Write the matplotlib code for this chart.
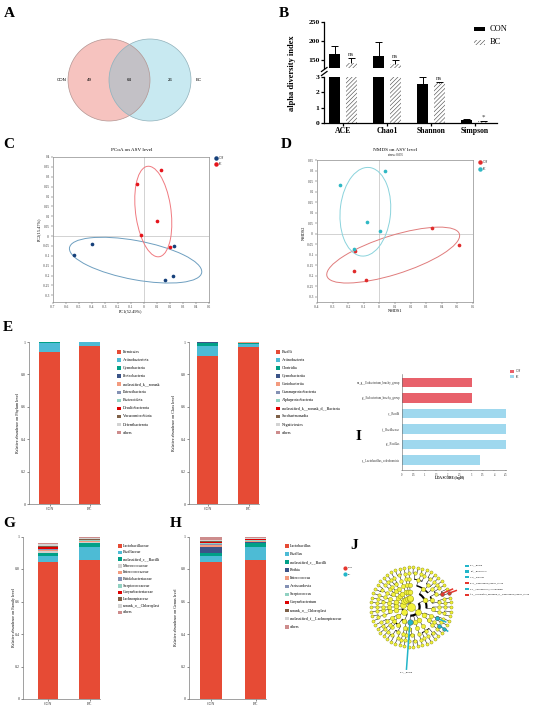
import numpy as np
import matplotlib
matplotlib.use("Agg")
import matplotlib.pyplot as plt
from matplotlib.patches import Circle, Ellipse, Rectangle
from matplotlib.lines import Line2D
from matplotlib.transforms import Bbox, TransformedBbox

plt.rcParams['font.family'] = ['Liberation Serif', 'DejaVu Serif']
plt.rcParams['hatch.linewidth'] = 0.45

# ---------------- data ----------------
venn_groups = ["CON", "BC"]
venn_counts = [49, 64, 26]          # CON only, shared, BC only

alpha_metrics = ["ACE", "Chao1", "Shannon", "Simpson"]
alpha_con = [165, 161, 2.53, 0.22]
alpha_con_sd = [21, 36, 0.44, 0.02]
alpha_bc = [142, 139, 2.58, 0.11]
alpha_bc_sd = [12, 11, 0.10, 0.04]
alpha_sig = ["ns", "ns", "ns", "*"]

pcoa_con_x = [-0.40, -0.54, 0.228, 0.225, 0.164]
pcoa_con_y = [-0.040, -0.097, -0.050, -0.200, -0.224]
pcoa_bc_x = [0.128, -0.051, 0.100, -0.020, 0.200]
pcoa_bc_y = [0.336, 0.262, 0.076, 0.003, -0.057]

nmds_con_x = [0.336, 0.510, -0.155, -0.166, -0.083]
nmds_con_y = [0.025, -0.057, -0.083, -0.177, -0.221]
nmds_bc_x = [-0.255, 0.036, -0.077, 0.006, -0.160]
nmds_bc_y = [0.229, 0.298, 0.053, 0.014, -0.076]

phylum_names = ["Firmicutes", "Actinobacteriota", "Cyanobacteria", "Proteobacteria",
                "unclassified_k__norank", "Patescibacteria", "Bacteroidota",
                "Desulfobacterota", "Verrucomicrobiota", "Deferribacterota", "others"]
phylum_con = [0.936, 0.059, 0.002, 0.001, 0.001, 0.0005, 0.0005, 0, 0, 0, 0]
phylum_bc = [0.977, 0.020, 0.001, 0.001, 0.0005, 0, 0.0005, 0, 0, 0, 0]

class_names = ["Bacilli", "Actinobacteria", "Clostridia", "Cyanobacteriia", "Coriobacteriia",
               "Gammaproteobacteria", "Alphaproteobacteria", "unclassified_k__norank_d__Bacteria",
               "Saccharimonadia", "Negativicutes", "others"]
class_con = [0.912, 0.062, 0.022, 0.002, 0.001, 0.0005, 0.0005, 0, 0, 0, 0]
class_bc = [0.970, 0.018, 0.006, 0.001, 0.003, 0.001, 0.001, 0, 0, 0, 0]

family_names = ["Lactobacillaceae", "Bacillaceae", "unclassified_c__Bacilli", "Micrococcaceae",
                "Enterococcaceae", "Bifidobacteriaceae", "Streptococcaceae", "Corynebacteriaceae",
                "Lachnospiraceae", "norank_o__Chloroplast", "others"]
family_con = [0.845, 0.035, 0.017, 0.014, 0.005, 0.005, 0.005, 0.008, 0.010, 0.008, 0.010]
family_bc = [0.853, 0.085, 0.025, 0.003, 0.004, 0.003, 0.003, 0.003, 0.005, 0.005, 0.010]

genus_names = ["Lactobacillus", "Bacillus", "unclassified_c__Bacilli", "Rothia", "Enterococcus",
               "Aeriscardovia", "Streptococcus", "Corynebacterium", "norank_o__Chloroplast",
               "unclassified_f__Lachnospiraceae", "others"]
genus_con = [0.845, 0.035, 0.017, 0.040, 0.010, 0.008, 0.006, 0.008, 0.006, 0.005, 0.020]
genus_bc = [0.853, 0.085, 0.025, 0.003, 0.004, 0.003, 0.003, 0.006, 0.004, 0.003, 0.010]

lefse_features = ["s__unclassified_bacterium_g__Eubacterium_brachy_group",
                  "g__Eubacterium_brachy_group", "c__Bacilli", "f__Bacillaceae",
                  "g__Bacillus", "s__Lactobacillus_coleohominis"]
lefse_lda = [3.02, 3.02, 4.49, 4.49, 4.49, 3.38]
lefse_group = ["CON", "CON", "BC", "BC", "BC", "BC"]

# cladogram: number of children of every node, level by level
clado_children = [
    [8],
    [5, 3, 2, 2, 1, 1, 1, 1],
    [3, 2, 1, 1, 1, 2, 2, 1, 2, 1, 1, 1, 1, 1, 1, 1],
    [3, 2, 2, 1, 2, 1, 1, 2, 1, 2, 1, 1, 2, 1, 1, 1, 2, 1, 1, 1, 1, 1],
    [3, 2, 1, 2, 2, 1, 1, 2, 1, 1, 3, 1, 2, 1, 1, 2, 1, 1, 2, 1, 1, 1, 2, 1, 1, 1, 1, 2, 1, 1, 1],
    [2, 1, 1, 2, 1, 1, 1, 2, 1, 1, 1, 2, 1, 1, 1, 1, 2, 1, 1, 1, 2, 1, 1, 1, 1, 2, 1, 1, 1, 1,
     2, 1, 1, 1, 1, 1, 2, 1, 1, 1, 1, 2, 1, 1],
]
clado_marks = [(2, -95, "BC", 1.45), (4, -28, "BC", 0.88), (5, -31, "BC", 0.97),
               (6, -36, "BC", 1.02), (5, 25, "CON", 1.05), (6, 22, "CON", 1.12)]
clado_labels = ["a: c__Bacilli", "b: f__Bacillaceae", "c: g__Bacillus",
                "d: g__Eubacterium_brachy_group", "e: s__Lactobacillus_coleohominis",
                "f: s__unclassified_bacterium_g__Eubacterium_brachy_group"]
clado_label_group = ["BC", "BC", "BC", "CON", "BC", "CON"]

npg = ["#E64B35", "#4DBBD5", "#00A087", "#3C5488", "#F39B7F", "#8491B4",
       "#91D1C2", "#DC0000", "#7E6148", "#D3D3D3", "#CD8C8C"]
family_colors = list(npg)
family_colors[3] = "#D0D0D0"

# ---------------- figure helpers ----------------
W, H = 550, 708
fig = plt.figure(figsize=(W / 100, H / 100), dpi=100)


def box(x0, y0, x1, y1):
    return [x0 / W, 1 - y1 / H, (x1 - x0) / W, (y1 - y0) / H]


def ftext(x, y, s, **kw):
    return fig.text(x / W, 1 - y / H, s, **kw)


def fig_rect(x0, y0, w, h, **kw):
    fig.add_artist(Rectangle((x0 / W, 1 - (y0 + h) / H), w / W, h / H,
                             transform=fig.transFigure, **kw))


def fig_dot(x, y, color, ms):
    fig.add_artist(Line2D([x / W], [1 - y / H], marker='o', ms=ms, color=color,
                          ls='none', transform=fig.transFigure))


for letter, (lx, ly) in {"A": (4, 17), "B": (279, 17), "C": (3, 148), "D": (281, 148),
                         "E": (3, 331), "G": (3, 527), "H": (170, 527), "I": (356, 440),
                         "J": (350, 549)}.items():
    ftext(lx, ly, letter, fontsize=11, fontweight='bold', va='baseline')

# ---------------- A: Venn ----------------
axA = fig.add_axes(box(40, 30, 230, 130))
axA.set_xlim(40, 230)
axA.set_ylim(130, 30)
axA.axis('off')
pink = Circle((109, 80), 41, fc='#F6C3BF', ec='none')
blue = Circle((150, 80), 41, fc='#C8E9F1', ec='none')
lens = Circle((150, 80), 41, fc='#C3C1C6', ec='none')
axA.add_patch(pink)
axA.add_patch(blue)
axA.add_patch(lens)
lens.set_clip_path(Circle((109, 80), 41, transform=axA.transData))
axA.add_patch(Circle((109, 80), 41, fill=False, ec='#B39592', lw=0.5))
axA.add_patch(Circle((150, 80), 41, fill=False, ec='#8FB0BA', lw=0.5))
vfont = dict(fontsize=3.2, family=['Liberation Sans', 'DejaVu Sans'], ha='center', va='center')
axA.text(62, 80, venn_groups[0], **vfont)
axA.text(198.5, 80, venn_groups[1], **vfont)
for xv, c in zip([89, 129.5, 170.5], venn_counts):
    axA.text(xv, 80, str(c), **vfont)

# ---------------- B: alpha diversity ----------------
xB = np.arange(len(alpha_metrics))
off, bw = 0.19, 0.26
axBt = fig.add_axes(box(324, 22, 497, 68))
axBb = fig.add_axes(box(324, 77, 497, 123))
for ax in (axBt, axBb):
    ax.bar(xB - off, alpha_con, bw, color='black', zorder=2)
    ax.bar(xB + off, alpha_bc, bw, color='white', edgecolor='#555555', hatch='////////',
           lw=0, zorder=2)
    ax.vlines(xB - off, alpha_con, np.add(alpha_con, alpha_con_sd), color='black', lw=0.7)
    ax.hlines(np.add(alpha_con, alpha_con_sd), xB - off - 0.08, xB - off + 0.08, color='black', lw=0.7)
    ax.vlines(xB + off, alpha_bc, np.add(alpha_bc, alpha_bc_sd), color='black', lw=0.7)
    ax.hlines(np.add(alpha_bc, alpha_bc_sd), xB + off - 0.08, xB + off + 0.08, color='black', lw=0.7)
    ax.set_xlim(-0.43, 3.5)
    for s in ('top', 'right'):
        ax.spines[s].set_visible(False)
    ax.spines['left'].set_linewidth(0.9)
    ax.spines['bottom'].set_linewidth(0.9)
    ax.tick_params(width=0.9, length=2.2, pad=1)
axBt.set_ylim(128, 250)
axBt.set_yticks([150, 200, 250])
axBt.set_yticklabels(["150", "200", "250"], fontsize=5.4, fontweight='bold')
axBt.spines['bottom'].set_visible(False)
axBt.set_xticks([])
axBb.set_ylim(0, 3)
axBb.set_yticks([0, 1, 2, 3])
axBb.set_yticklabels(["0", "1", "2", "3"], fontsize=5.4, fontweight='bold')
axBb.set_xticks(xB)
axBb.set_xticklabels(alpha_metrics, fontsize=5.6, fontweight='bold')
for i, s in enumerate(alpha_sig):
    top = alpha_bc[i] + alpha_bc_sd[i]
    ax = axBt if alpha_bc[i] > 3 else axBb
    pad = 2 if ax is axBt else 0.05
    ax.text(xB[i] + off, top + pad, s, fontsize=5, ha='center', va='bottom', color='#333333')
for yy in (69.5, 73.5):
    fig.add_artist(Line2D([321.5 / W, 327 / W], [1 - (yy + 2) / H, 1 - (yy - 2) / H],
                          color='black', lw=0.9, transform=fig.transFigure))
ftext(292, 73, "alpha diversity index", rotation=90, fontsize=6, fontweight='bold',
      ha='center', va='center')
fig_rect(474, 26.5, 11, 4.5, fc='black', ec='none')
fig_rect(474, 40, 11, 4.5, fc='white', ec='#555555', hatch='////////', lw=0)
ftext(490, 29, "CON", fontsize=6, va='center')
ftext(490, 42.5, "BC", fontsize=6, va='center')


# ---------------- C / D: ordinations ----------------
def conf_ellipse(ax, x, y, color, k=1.36):
    cov = np.cov(x, y)
    vals, vecs = np.linalg.eigh(cov)
    order = vals.argsort()[::-1]
    vals, vecs = vals[order], vecs[:, order]
    ang = np.degrees(np.arctan2(vecs[1, 0], vecs[0, 0]))
    ax.add_patch(Ellipse((np.mean(x), np.mean(y)), 2 * k * np.sqrt(vals[0]),
                         2 * k * np.sqrt(vals[1]), angle=ang, fill=False, ec=color, lw=0.7))


def style_ord(ax, xt, yt):
    for sp in ax.spines.values():
        sp.set_color('#8c8c8c')
        sp.set_linewidth(0.5)
    ax.set_xticks(xt)
    ax.set_xticklabels([f"{v:g}" for v in np.round(xt, 2)])
    ax.set_yticks(yt)
    ax.set_yticklabels([f"{v:g}" for v in np.round(yt, 2)])
    ax.tick_params(labelsize=2.4, length=1.2, width=0.3, pad=1, colors='#333333')
    ax.axhline(0, color='#b0b0b0', lw=0.4, zorder=0)
    ax.axvline(0, color='#b0b0b0', lw=0.4, zorder=0)


axC = fig.add_axes(box(53, 157, 209, 302))
axC.set_xlim(-0.7, 0.5)
axC.set_ylim(-0.334, 0.4)
style_ord(axC, np.arange(-0.7, 0.51, 0.1), np.arange(-0.3, 0.41, 0.05))
conf_ellipse(axC, pcoa_con_x, pcoa_con_y, '#6E9FC0')
conf_ellipse(axC, pcoa_bc_x, pcoa_bc_y, '#F07A80')
axC.scatter(pcoa_con_x, pcoa_con_y, s=7, color='#16407A', lw=0, zorder=3)
axC.scatter(pcoa_bc_x, pcoa_bc_y, s=7, color='#E5141B', lw=0, zorder=3)
ftext(132, 150, "PCoA on ASV level", fontsize=3.7, ha='center', va='center')
ftext(131, 311, "PC1(52.49%)", fontsize=3.1, ha='center', va='center')
ftext(39, 229, "PC2(15.47%)", fontsize=3.1, ha='center', va='center', rotation=90)
fig_dot(216, 158.3, '#16407A', 2.2)
fig_dot(216, 164, '#E5141B', 2.2)
ftext(218.5, 158.3, "CON", fontsize=1.8, va='center')
ftext(218.5, 164, "BC", fontsize=1.8, va='center')

axD = fig.add_axes(box(317, 160, 473, 302))
axD.set_xlim(-0.4, 0.6)
axD.set_ylim(-0.326, 0.35)
style_ord(axD, np.arange(-0.4, 0.61, 0.1), np.arange(-0.3, 0.36, 0.05))
conf_ellipse(axD, nmds_con_x, nmds_con_y, '#E07C7C')
conf_ellipse(axD, nmds_bc_x, nmds_bc_y, '#8AD3DC')
axD.scatter(nmds_con_x, nmds_con_y, s=7, color='#E02B2B', lw=0, zorder=3)
axD.scatter(nmds_bc_x, nmds_bc_y, s=7, color='#2FB8C4', lw=0, zorder=3)
ftext(395, 150, "NMDS on ASV level", fontsize=3.7, ha='center', va='center')
ftext(395, 155.5, "stress: 0.035", fontsize=2.2, ha='center', va='center')
ftext(395, 311, "NMDS1", fontsize=3.1, ha='center', va='center')
ftext(304, 233, "NMDS2", fontsize=3.1, ha='center', va='center', rotation=90)
fig_dot(480, 162, '#E02B2B', 2.2)
fig_dot(480, 168.7, '#2FB8C4', 2.2)
ftext(482.5, 162, "CON", fontsize=1.8, va='center')
ftext(482.5, 168.7, "BC", fontsize=1.8, va='center')


# ---------------- E / G / H: stacked bars ----------------
def stack_panel(axis_px, con_px, bc_px, right_px, top_px, bottom_px, bar_px,
                con_vals, bc_vals, colors, ylabel, ylabel_x):
    ax = fig.add_axes(box(axis_px, top_px, right_px, bottom_px))
    ppu = bc_px - con_px
    ax.set_xlim(-(con_px - axis_px) / ppu, 1 + (right_px - bc_px) / ppu)
    ax.set_ylim(0, 1)
    bottoms = np.zeros(2)
    for cv, bv, c in zip(con_vals, bc_vals, colors):
        ax.bar([0, 1], [cv, bv], bar_px / ppu, bottom=bottoms, color=c, lw=0)
        bottoms += [cv, bv]
    ax.set_xticks([0, 1])
    ax.set_xticklabels(["CON", "BC"])
    ax.set_yticks([0, 0.2, 0.4, 0.6, 0.8, 1])
    ax.set_yticklabels(["0", "0.2", "0.4", "0.6", "0.8", "1"])
    ax.tick_params(labelsize=2.9, length=1.3, width=0.4, pad=1.2, colors='#333333')
    for s in ('top', 'right'):
        ax.spines[s].set_visible(False)
    for s in ('left', 'bottom'):
        ax.spines[s].set_color('#7a7a7a')
        ax.spines[s].set_linewidth(0.5)
    ftext(ylabel_x, (top_px + bottom_px) / 2, ylabel, rotation=90, fontsize=3.0,
          ha='center', va='center')
    return ax


def legend_rows(x_sq, x_txt, y0, dy, names, colors, fs=2.9):
    for k, (n, c) in enumerate(zip(names, colors)):
        y = y0 + k * dy
        fig_rect(x_sq, y - 1.8, 4, 3.6, fc=c, ec='none')
        ftext(x_txt, y, n, fontsize=fs, va='center', ha='left')


stack_panel(29, 49.5, 89.5, 100, 342, 504, 21, phylum_con, phylum_bc, npg,
            "Relative abundance on Phylum level", 18)
legend_rows(116.7, 122.7, 352, 8.06, phylum_names, npg)
stack_panel(189, 207.5, 248.5, 259, 342, 504, 21, class_con, class_bc, npg,
            "Relative abundance on Class level", 174)
legend_rows(275.7, 281.5, 352, 8.06, class_names, npg)
stack_panel(23, 48, 89.5, 100, 536.5, 699, 20.5, family_con, family_bc, family_colors,
            "Relative abundance on Family level", 14)
legend_rows(118.3, 122.7, 545.7, 6.67, family_names, family_colors)
stack_panel(189, 211, 255.5, 266, 536.5, 699, 22, genus_con, genus_bc, npg,
            "Relative abundance on Genus level", 176)
legend_rows(285, 289.5, 546, 8.07, genus_names, npg)

# ---------------- I: LEfSe ----------------
grp_col = {"CON": "#E8616B", "BC": "#9FD8EE"}
axI = fig.add_axes(box(401.7, 374, 506, 470))
yI = np.arange(len(lefse_features))
axI.barh(yI, lefse_lda, 0.61, color=[grp_col[g] for g in lefse_group], lw=0)
axI.set_xlim(0, 4.5)
axI.set_ylim(5.65, -0.55)
axI.set_yticks([])
xt = np.arange(0, 4.51, 0.5)
axI.set_xticks(xt)
axI.set_xticklabels([f"{v:g}" for v in xt])
axI.tick_params(labelsize=2.0, length=1.0, width=0.3, pad=0.8, colors='#333333')
for s in ('top', 'right'):
    axI.spines[s].set_visible(False)
for s in ('left', 'bottom'):
    axI.spines[s].set_color('#666666')
    axI.spines[s].set_linewidth(0.4)
clipI = TransformedBbox(Bbox([[357 / W, 0], [1, 1]]), fig.transFigure)
for y, name in zip(yI, lefse_features):
    t = axI.text(-0.015, y, name, transform=axI.get_yaxis_transform(), fontsize=2.2,
                 ha='right', va='center', color='#333333')
    t.set_clip_path(None)
    t.set_clip_box(clipI)
    t.set_clip_on(True)
ftext(450, 478, "LDA SCORE (log10)", fontsize=2.3, fontweight='bold', ha='center', va='center')
fig_rect(510, 369.5, 4, 3, fc=grp_col["CON"], ec='none')
fig_rect(510, 375.2, 4, 3, fc=grp_col["BC"], ec='none')
ftext(516, 371, "CON", fontsize=1.8, va='center')
ftext(516, 376.7, "BC", fontsize=1.8, va='center')

# ---------------- J: cladogram ----------------
jcol = {"CON": "#E5352D", "BC": "#22B5C9"}
cx, cy, R = 411, 607, 43
axJ = fig.add_axes(box(355, 555, 465, 675))
axJ.set_xlim((355 - cx) / R, (465 - cx) / R)
axJ.set_ylim((cy - 675) / R, (cy - 555) / R)
axJ.axis('off')

parents = [[-1]]
for counts in clado_children:
    par = []
    for i, c in zip(range(len(parents[-1])), counts):
        par += [i] * c
    parents.append(par)


def kids(d, i):
    if d + 1 >= len(parents):
        return []
    return [j for j, p in enumerate(parents[d + 1]) if p == i]


leaf_order = []


def dfs(d, i):
    ch = kids(d, i)
    if not ch:
        leaf_order.append((d, i))
    for j in ch:
        dfs(d + 1, j)


dfs(0, 0)
angle = {}
for k, key in enumerate(leaf_order):
    angle[key] = 90 - (k + 0.5) * 360 / len(leaf_order)


def set_angle(d, i):
    ch = kids(d, i)
    for j in ch:
        set_angle(d + 1, j)
    if ch:
        angle[(d, i)] = 0.5 * (angle[(d + 1, ch[0])] + angle[(d + 1, ch[-1])])


set_angle(0, 0)
ring_r = [0, 0.2, 0.36, 0.51, 0.65, 0.79, 0.93]
arc_lw = [1.2, 1.6, 1.5, 1.1, 0.7, 0.5]
node_s = [34, 18, 12, 9, 7, 6, 5]


def pol(r, a):
    return r * np.cos(np.radians(a)), r * np.sin(np.radians(a))


for d in range(len(parents) - 1):
    for i in range(len(parents[d])):
        ch = kids(d, i)
        if not ch:
            continue
        a0, a1 = angle[(d + 1, ch[0])], angle[(d + 1, ch[-1])]
        if d > 0 and len(ch) > 1:
            th = np.linspace(a0, a1, 30)
            axJ.plot(*pol(ring_r[d], th), color='black', lw=arc_lw[d], solid_capstyle='butt')
        for j in ch:
            a = angle[(d + 1, j)]
            xs, ys = pol(np.array([ring_r[d], ring_r[d + 1]]), a)
            axJ.plot(xs, ys, color='black', lw=0.35)
for d in range(len(parents)):
    pts = [pol(ring_r[d], angle.get((d, i), 0)) for i in range(len(parents[d]))]
    axJ.scatter([p[0] for p in pts], [p[1] for p in pts], s=node_s[d], color='#F2F23A',
                edgecolors='#8C8C10', linewidths=0.3, zorder=3)
for depth, target, grp, r_end in clado_marks:
    cand = [(abs(angle[(depth, i)] - target), i) for i in range(len(parents[depth]))]
    i = min(cand)[1]
    a = angle[(depth, i)]
    xs, ys = pol(np.array([ring_r[depth], r_end]), a)
    axJ.plot(xs, ys, color=jcol[grp], lw=1.1, zorder=4)
    axJ.scatter(*pol(ring_r[depth], a), s=node_s[depth] * 1.3, color=jcol[grp],
                edgecolors='#555555', linewidths=0.3, zorder=5)
    if r_end > 1.3:
        xe, ye = pol(r_end + 0.06, a)
        axJ.text(xe, ye, clado_labels[0], fontsize=1.7, ha='center', va='top')
for k, (lab, g) in enumerate(zip(clado_labels, clado_label_group)):
    y = 565.7 + k * 5.8
    fig_rect(464.5, y - 1.1, 4, 2.2, fc=jcol[g], ec='none')
    ftext(470.5, y, lab, fontsize=1.7, va='center')
fig_dot(345, 567.7, jcol["CON"], 2.0)
fig_dot(345, 574.3, jcol["BC"], 2.0)
ftext(347.5, 567.7, "CON", fontsize=1.7, va='center')
ftext(347.5, 574.3, "BC", fontsize=1.7, va='center')

fig.savefig("out.png", dpi=100)
